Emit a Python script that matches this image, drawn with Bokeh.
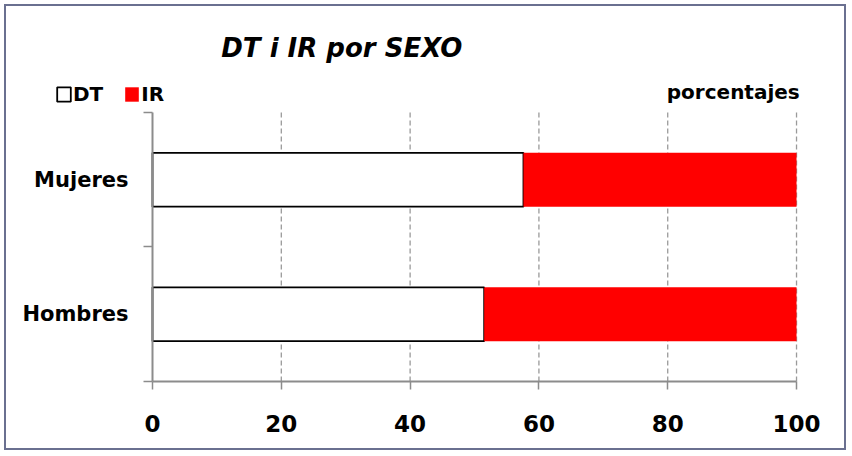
from bokeh.plotting import figure
from bokeh.models import ColumnDataSource, FixedTicker, Label, Legend, LegendItem, Range1d
from bokeh.embed import file_html
from bokeh.resources import INLINE

# ---- data ----
categories = ["Hombres", "Mujeres"]
cat_pos = [0.5, 1.5]
cat_bounds = [0, 1, 2]
dt = [51.5, 57.6]
ir = [48.5, 42.4]
x_ticks = [0, 20, 40, 60, 80, 100]
grid_x = [20, 40, 60, 80, 100]
title_text = "DT i IR por SEXO"
unit_text = "porcentajes"

FONT = "DejaVu Sans"

src = ColumnDataSource(dict(y=cat_pos, DT=dt, IR=ir))
gsrc = ColumnDataSource(dict(x=grid_x, y0=[cat_bounds[0]] * len(grid_x), y1=[cat_bounds[-1]] * len(grid_x)))

p = figure(width=842, height=446, output_backend="svg", toolbar_location=None,
           x_range=Range1d(-22.67, 108.07), y_range=Range1d(-0.528, 2.788),
           min_border=0, min_border_left=0, min_border_right=0,
           min_border_top=0, min_border_bottom=0)
p.margin = (4, 0, 0, 4)
p.styles = {"border": "2px solid #6a7090"}
p.outline_line_color = None
p.background_fill_color = "white"
p.border_fill_color = "white"
p.xgrid.visible = False
p.ygrid.visible = False

# dashed vertical grid lines, limited to the category band
p.segment(x0="x", y0="y0", x1="x", y1="y1", source=gsrc,
          line_color="#9a9a9a", line_dash="5 3", line_width=1.3)

r = p.hbar_stack(["DT", "IR"], y="y", height=0.4, source=src,
                 fill_color=["white", "#ff0000"],
                 line_color=["black", None], line_width=[1.8, 0])

# x axis
p.xaxis.fixed_location = 0
p.xaxis.bounds = (x_ticks[0], x_ticks[-1])
p.xaxis.ticker = FixedTicker(ticks=x_ticks)
p.xaxis.axis_line_color = "#8c8c8c"
p.xaxis.axis_line_width = 2
p.xaxis.major_tick_line_color = "#8c8c8c"
p.xaxis.major_tick_line_width = 1.5
p.xaxis.major_tick_out = 8
p.xaxis.major_tick_in = 0
p.xaxis.minor_tick_line_color = None
p.xaxis.major_label_standoff = 26
p.xaxis.major_label_text_font = FONT
p.xaxis.major_label_text_font_style = "bold"
p.xaxis.major_label_text_font_size = "23px"
p.xaxis.major_label_text_color = "black"

# y axis
p.yaxis.fixed_location = 0
p.yaxis.bounds = (cat_bounds[0], cat_bounds[-1])
p.yaxis.ticker = FixedTicker(ticks=cat_pos, minor_ticks=cat_bounds)
p.yaxis.major_label_overrides = {cat_pos[i]: categories[i] for i in range(len(categories))}
p.yaxis.axis_line_color = "#8c8c8c"
p.yaxis.axis_line_width = 2
p.yaxis.major_tick_line_color = None
p.yaxis.minor_tick_line_color = "#8c8c8c"
p.yaxis.minor_tick_line_width = 1.5
p.yaxis.minor_tick_out = 9
p.yaxis.minor_tick_in = 0
p.yaxis.major_label_standoff = 15
p.yaxis.major_label_text_font = FONT
p.yaxis.major_label_text_font_style = "bold"
p.yaxis.major_label_text_font_size = "21px"
p.yaxis.major_label_text_color = "black"

# legend
legend = Legend(items=[LegendItem(label="DT", renderers=[r[0]]),
                       LegendItem(label="IR", renderers=[r[1]])],
                orientation="horizontal", location=(49, 346),
                glyph_width=17, glyph_height=18, label_standoff=1, spacing=20,
                padding=0, margin=0, border_line_color=None, background_fill_alpha=0,
                label_text_font=FONT, label_text_font_style="bold",
                label_text_font_size="20px", label_text_color="black")
p.add_layout(legend, "center")

# title and unit labels
p.add_layout(Label(x=29.4, y=2.476, text=title_text, text_align="center", text_baseline="middle",
                   text_font=FONT, text_font_style="bold italic", text_font_size="26px",
                   text_color="black"))
p.add_layout(Label(x=100.5, y=2.149, text=unit_text, text_align="right", text_baseline="middle",
                   text_font=FONT, text_font_style="bold", text_font_size="20px",
                   text_color="black"))

open("out.html", "w").write(file_html(p, INLINE))
